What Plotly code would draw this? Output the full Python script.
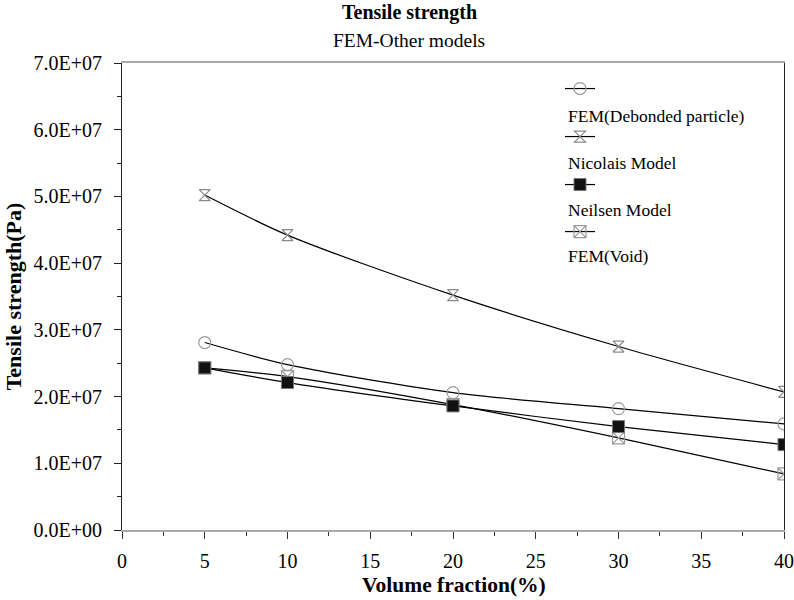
import plotly.graph_objects as go

# ---- data ----
volume_fraction = [5, 10, 20, 30, 40]
fem_debonded = [2.81e7, 2.48e7, 2.06e7, 1.82e7, 1.59e7]
nicolais = [5.02e7, 4.42e7, 3.52e7, 2.75e7, 2.07e7]
neilsen = [2.43e7, 2.21e7, 1.86e7, 1.55e7, 1.28e7]
fem_void = [2.43e7, 2.30e7, 1.88e7, 1.38e7, 0.84e7]

series_names = ["FEM(Debonded particle)", "Nicolais Model", "Neilsen Model", "FEM(Void)"]
y_tick_vals = [0, 1e7, 2e7, 3e7, 4e7, 5e7, 6e7, 7e7]
y_tick_text = [f"{v:.1E}" for v in y_tick_vals]
x_tick_vals = [0, 5, 10, 15, 20, 25, 30, 35, 40]

FONT = "Liberation Serif"
W, H = 794, 600
L, R, T, B = 122, 10, 63, 70
PW, PH = W - L - R, H - T - B

def px_x(px):
    return (px - L) / PW

def px_y(py):
    return (H - B - py) / PH

fig = go.Figure()

styles = {
    "FEM(Debonded particle)": dict(symbol="circle-open", size=12, color="#9a9a9a", line=dict(width=1.2, color="#9a9a9a")),
    "Nicolais Model": dict(symbol="hourglass-open", size=11, color="#8a8a8a", line=dict(width=1.2, color="#8a8a8a")),
    "Neilsen Model": dict(symbol="square", size=12, color="#111111", line=dict(width=1, color="#777777")),
    "FEM(Void)": dict(symbol="square-x-open", size=12, color="#9a9a9a", line=dict(width=1.2, color="#9a9a9a")),
}
values = {
    "FEM(Debonded particle)": fem_debonded,
    "Nicolais Model": nicolais,
    "Neilsen Model": neilsen,
    "FEM(Void)": fem_void,
}
legend_ids = {
    "FEM(Debonded particle)": "legend",
    "Nicolais Model": "legend2",
    "Neilsen Model": "legend3",
    "FEM(Void)": "legend4",
}
draw_order = ["FEM(Debonded particle)", "Nicolais Model", "FEM(Void)", "Neilsen Model"]

for nm in draw_order:
    fig.add_trace(go.Scatter(
        x=volume_fraction, y=values[nm], mode="lines+markers",
        line=dict(color="black", width=1.2, shape="spline", smoothing=0.8),
        marker=styles[nm], name=" ", legend=legend_ids[nm], showlegend=True,
        hovertext=nm,
    ))

# legend symbol positions (px) and label positions
sym_y = [89, 137, 185, 232]
lab_y = [116, 163, 210, 256]
leg_x = 560
layout_legends = {}
for nm, sy in zip(series_names, sym_y):
    layout_legends[legend_ids[nm]] = dict(
        xref="container", yref="container",
        x=leg_x / W, y=1 - sy / H, xanchor="left", yanchor="middle",
        bgcolor="rgba(0,0,0,0)", borderwidth=0,
        font=dict(family=FONT, size=17, color="black"),
    )

annotations = []
for nm, ly in zip(series_names, lab_y):
    annotations.append(dict(
        text=nm, xref="paper", yref="paper", x=px_x(566), y=px_y(ly),
        xanchor="left", yanchor="middle", showarrow=False,
        font=dict(family=FONT, size=17.5, color="black"),
    ))
annotations.append(dict(
    text="<b>Tensile strength</b>", xref="paper", yref="paper",
    x=px_x(409), y=px_y(12), xanchor="center", yanchor="middle", showarrow=False,
    font=dict(family=FONT, size=20, color="black"),
))
annotations.append(dict(
    text="FEM-Other models", xref="paper", yref="paper",
    x=px_x(409), y=px_y(40), xanchor="center", yanchor="middle", showarrow=False,
    font=dict(family=FONT, size=19.5, color="black"),
))
annotations.append(dict(
    text="<b>Volume fraction(%)</b>", xref="paper", yref="paper",
    x=px_x(454), y=px_y(585), xanchor="center", yanchor="middle", showarrow=False,
    font=dict(family=FONT, size=21.5, color="black"),
))

fig.update_layout(
    width=W, height=H,
    margin=dict(l=L, r=R, t=T, b=B, autoexpand=False),
    paper_bgcolor="white", plot_bgcolor="white",
    font=dict(family=FONT, size=20, color="black"),
    annotations=annotations,
    **layout_legends,
    xaxis=dict(
        range=[0, 40], tickvals=x_tick_vals, ticks="outside", ticklen=7,
        tickcolor="#333", tickwidth=1,
        minor=dict(dtick=2.5, ticks="outside", ticklen=4, tickcolor="#333", tickwidth=1),
        showline=True, linecolor="#aaaaaa", linewidth=2, mirror=True,
        showgrid=False, zeroline=False,
        tickfont=dict(family=FONT, size=20), ticklabelstandoff=5,
        ticklabeloverflow="allow",
    ),
    yaxis=dict(
        range=[0, 7e7], tickvals=y_tick_vals, ticktext=y_tick_text,
        ticks="outside", ticklen=7, tickcolor="#222", tickwidth=1,
        minor=dict(dtick=5e6, ticks="outside", ticklen=4, tickcolor="#222", tickwidth=1),
        showline=True, linecolor="#222222", linewidth=1, mirror=True,
        showgrid=False, zeroline=False,
        tickfont=dict(family=FONT, size=20), ticklabelstandoff=8,
        ticklabeloverflow="allow",
        title=dict(text="<b>Tensile strength(Pa)</b>", font=dict(family=FONT, size=22), standoff=5),
    ),
    xaxis2=dict(
        overlaying="x", matches="x", anchor="y", side="bottom", range=[0, 40],
        tickvals=x_tick_vals, ticks="inside", ticklen=7, tickcolor="#333", tickwidth=1,
        minor=dict(dtick=2.5, ticks="inside", ticklen=4, tickcolor="#333", tickwidth=1),
        showticklabels=False, showline=False, showgrid=False, zeroline=False,
    ),
    yaxis2=dict(
        overlaying="y", matches="y", anchor="x", side="left", range=[0, 7e7],
        tickvals=y_tick_vals, ticks="inside", ticklen=5, tickcolor="#222", tickwidth=1,
        minor=dict(dtick=5e6, ticks="inside", ticklen=3, tickcolor="#222", tickwidth=1),
        showticklabels=False, showline=False, showgrid=False, zeroline=False,
    ),
)

fig.write_html("out.html")
